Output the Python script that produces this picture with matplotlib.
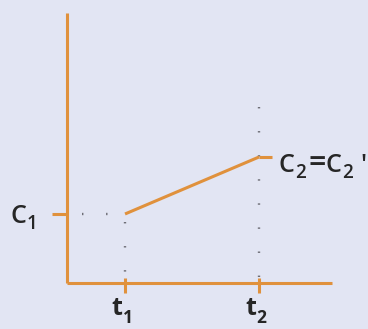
import numpy as np
import matplotlib
matplotlib.use("Agg")
import matplotlib.pyplot as plt

plt.rcParams['font.family'] = ['Open Sans', 'DejaVu Sans']

# Time points and concentrations
times = [1.0, 2.0]
concs = [1.0, 2.0]
time_names = ["t", "t"]
time_subs = ["1", "2"]
conc_label_1 = [("C", "main"), ("1", "sub")]
conc_label_2 = [("C", "main"), ("2", "sub"), ("=", "eq"), ("C", "main"), ("2", "sub"), ("'", "prime")]

bg = '#e2e5f3'
orange = '#e0913c'
ink = '#262626'
dotc = '#6e6e76'

fig = plt.figure(figsize=(3.68, 3.29), dpi=100, facecolor=bg)
ax = fig.add_axes([0, 0, 1, 1])
ax.set_facecolor(bg)
ax.set_xlim(0.067, 2.813)
ax.set_ylim(-1.018, 4.754)
ax.axis('off')
renderer = fig.canvas.get_renderer()

x0, y0 = 0.567, -0.21   # axes origin
xmax, ymax = 2.545, 4.53

lw = 2.2
# axes
ax.plot([x0, x0], [y0, ymax], color=orange, lw=lw, solid_capstyle='butt')
ax.plot([x0, xmax], [y0, y0], color=orange, lw=lw, solid_capstyle='butt')

# guide dots
dots = dict(color=dotc, lw=1.7, linestyle=(0, (0.6, 9.6)), zorder=1)
ax.plot([x0 + 0.11, times[0]], [concs[0], concs[0]], **dots)
ax.plot([times[0], times[0]], [concs[0] - 0.14, y0], **dots)
ax.plot([times[1], times[1]], [2.87, y0], **dots)

# concentration change
ax.plot(times, concs, color=orange, lw=lw, solid_capstyle='butt', zorder=3)

# ticks
ax.plot([x0 - 0.11, x0], [concs[0], concs[0]], color=orange, lw=lw, solid_capstyle='butt')
ax.plot([times[1], times[1] + 0.1], [concs[1], concs[1]], color=orange, lw=lw, solid_capstyle='butt')
for t in times:
    ax.plot([t, t], [y0 + 0.08, y0 - 0.17], color=orange, lw=lw, solid_capstyle='butt')

# piece styles: font size, weight, baseline shift (px), gap before (px)
styles = {
    "main": (18, 'semibold', 0, 0),
    "sub": (13.5, 'semibold', -6, 1),
    "eq": (22, 'semibold', 0, 2),
    "prime": (18, 'semibold', 0, 7),
    "tmain": (18, 'bold', 0, 0),
    "tsub": (12.5, 'bold', -8, 0),
}


def write_parts(x, y, parts):
    """Lay out text pieces left to right starting at data point (x, y) on the baseline."""
    px, py = ax.transData.transform((x, y))
    cur = px
    for s, kind in parts:
        size, weight, dy, gap = styles[kind]
        cur += gap
        dx, dyd = ax.transData.inverted().transform((cur, py + dy))
        txt = ax.text(dx, dyd, s, ha='left', va='baseline', fontsize=size,
                      fontweight=weight, color=ink)
        cur = txt.get_window_extent(renderer).x1


write_parts(0.142, 0.842, conc_label_1)
write_parts(times[1] + 0.145, 1.737, conc_label_2)
for t, name, sub in zip(times, time_names, time_subs):
    write_parts(t - 0.1, -0.765, [(name, "tmain"), (sub, "tsub")])

fig.savefig('out.png', dpi=100, facecolor=bg)
